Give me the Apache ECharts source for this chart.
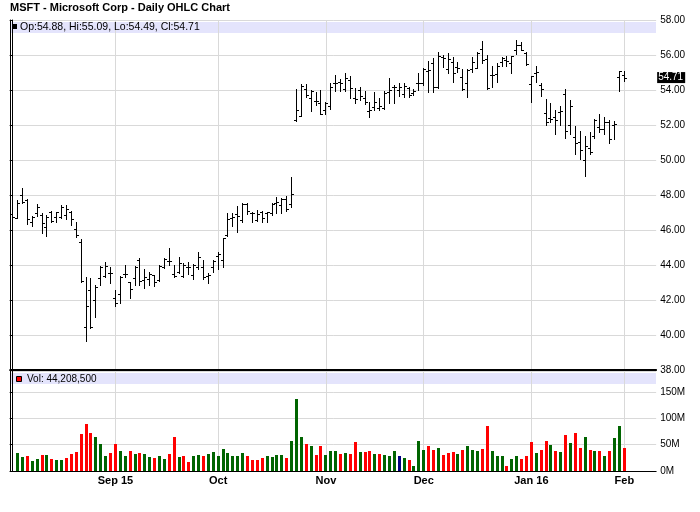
<!DOCTYPE html>
<html>
<head>
<meta charset="utf-8">
<script src="https://cdn.jsdelivr.net/npm/echarts@6/dist/echarts.min.js"></script>
<style>html,body{margin:0;padding:0;background:#fff}#c{width:700px;height:512px}</style>
</head>
<body>
<div id="c"></div>
<script>
// ---------- DATA ----------
const dates = [
 '2015-08-03','2015-08-04','2015-08-05','2015-08-06','2015-08-07','2015-08-10','2015-08-11','2015-08-12','2015-08-13','2015-08-14','2015-08-17','2015-08-18','2015-08-19','2015-08-20','2015-08-21','2015-08-24','2015-08-25','2015-08-26','2015-08-27','2015-08-28','2015-08-31',
 '2015-09-01','2015-09-02','2015-09-03','2015-09-04','2015-09-08','2015-09-09','2015-09-10','2015-09-11','2015-09-14','2015-09-15','2015-09-16','2015-09-17','2015-09-18','2015-09-21','2015-09-22','2015-09-23','2015-09-24','2015-09-25','2015-09-28','2015-09-29','2015-09-30',
 '2015-10-01','2015-10-02','2015-10-05','2015-10-06','2015-10-07','2015-10-08','2015-10-09','2015-10-12','2015-10-13','2015-10-14','2015-10-15','2015-10-16','2015-10-19','2015-10-20','2015-10-21','2015-10-22','2015-10-23','2015-10-26','2015-10-27','2015-10-28','2015-10-29','2015-10-30',
 '2015-11-02','2015-11-03','2015-11-04','2015-11-05','2015-11-06','2015-11-09','2015-11-10','2015-11-11','2015-11-12','2015-11-13','2015-11-16','2015-11-17','2015-11-18','2015-11-19','2015-11-20','2015-11-23','2015-11-24','2015-11-25','2015-11-27','2015-11-30',
 '2015-12-01','2015-12-02','2015-12-03','2015-12-04','2015-12-07','2015-12-08','2015-12-09','2015-12-10','2015-12-11','2015-12-14','2015-12-15','2015-12-16','2015-12-17','2015-12-18','2015-12-21','2015-12-22','2015-12-23','2015-12-24','2015-12-28','2015-12-29','2015-12-30','2015-12-31',
 '2016-01-04','2016-01-05','2016-01-06','2016-01-07','2016-01-08','2016-01-11','2016-01-12','2016-01-13','2016-01-14','2016-01-15','2016-01-19','2016-01-20','2016-01-21','2016-01-22','2016-01-25','2016-01-26','2016-01-27','2016-01-28','2016-01-29',
 '2016-02-01'
];
const open = [
 46.90,46.70,48.00,47.70,46.44,46.95,46.84,46.17,47.05,46.76,46.76,46.86,47.05,46.04,45.33,40.44,42.57,42.00,43.24,43.37,43.56,
 42.13,42.34,43.47,43.01,43.28,44.29,43.14,43.20,43.41,43.14,43.90,44.25,43.49,43.62,43.40,43.90,43.43,43.90,43.90,43.37,43.90,
 44.50,44.29,45.70,46.70,46.90,46.57,47.47,47.00,46.57,47.01,46.99,46.95,47.52,47.43,47.78,47.50,52.29,52.51,54.04,53.52,53.37,53.28,
 52.86,53.10,54.38,54.48,54.04,54.57,53.52,54.00,53.52,52.82,53.05,52.95,52.95,53.90,54.19,54.00,53.77,54.10,53.81,54.42,
 54.38,55.10,55.56,54.19,55.90,55.20,55.60,55.30,54.76,54.38,55.18,55.24,56.35,55.80,54.86,54.90,55.62,55.71,55.52,56.29,56.57,56.10,
 54.34,54.99,54.29,52.70,52.38,52.48,52.76,53.80,52.00,51.31,51.05,50.00,50.70,51.40,51.90,51.79,52.19,52.00,54.73,
 54.88
];
const high = [
 46.95,47.71,48.38,47.75,46.80,47.49,46.95,46.84,47.09,47.05,47.43,47.43,47.09,46.46,45.47,43.30,43.24,42.86,43.94,44.15,43.90,
 42.57,43.37,44.00,43.05,43.96,44.42,43.77,43.62,43.43,43.98,44.38,44.95,44.00,44.44,44.10,44.15,44.06,44.74,44.29,43.52,44.29,
 44.76,45.52,47.00,47.00,47.35,47.52,47.56,47.05,47.14,47.09,47.01,47.52,47.87,47.81,47.95,49.02,54.04,54.34,54.32,54.00,53.90,54.00,
 53.33,54.42,54.86,54.63,54.95,54.82,54.10,54.19,53.94,53.33,53.87,53.52,53.96,54.67,54.29,54.42,54.42,54.19,54.04,54.95,
 55.24,55.68,55.81,56.19,56.00,56.10,55.90,55.62,55.18,55.18,55.90,56.19,56.80,56.00,55.37,55.52,55.90,55.94,55.96,56.86,56.76,56.19,
 54.80,55.37,54.42,53.47,53.28,52.86,53.09,54.04,53.45,51.95,51.66,51.35,51.60,52.35,52.62,52.45,52.29,52.25,55.09,
 55.09
];
const low = [
 46.44,46.67,47.52,46.32,46.25,46.82,45.85,45.68,46.48,46.48,46.67,46.65,46.29,45.62,43.05,39.68,40.38,41.05,42.86,43.33,42.99,
 41.66,41.85,43.33,42.13,42.86,42.86,42.67,42.86,42.82,43.07,43.85,44.00,43.30,43.56,43.30,43.47,43.20,43.75,43.18,42.99,43.62,
 43.75,43.90,45.67,46.23,45.90,46.48,46.90,46.48,46.53,46.48,46.48,46.86,46.99,46.99,47.10,47.30,52.25,52.51,53.58,52.80,53.14,52.63,
 52.61,52.90,53.96,53.96,53.96,53.52,53.24,53.43,53.20,52.48,52.86,52.86,52.91,53.24,53.24,53.66,53.58,53.62,53.71,54.00,
 54.29,53.90,53.90,54.10,55.33,54.99,54.48,55.05,54.00,53.62,55.05,55.24,55.52,54.04,54.19,54.48,55.37,55.37,54.95,56.06,56.29,55.43,
 53.33,54.48,53.66,52.00,52.19,51.47,52.00,51.28,51.50,50.34,50.08,49.10,50.36,51.28,51.62,51.50,50.99,51.18,53.94,
 54.49
];
const close = [
 46.76,47.56,47.58,46.61,46.74,47.33,46.42,46.76,46.51,47.05,47.31,47.20,46.61,45.70,43.07,41.66,40.47,42.72,43.87,43.93,43.52,
 41.85,43.33,43.50,42.61,43.89,43.07,43.29,43.48,43.04,43.94,44.32,44.25,43.37,44.10,44.00,43.87,44.00,44.44,43.30,43.44,44.25,
 44.61,45.52,46.63,46.75,46.80,47.47,47.11,47.00,46.89,46.68,47.01,47.51,47.62,47.77,47.20,48.04,52.87,54.25,53.69,53.96,53.36,52.64,
 53.24,54.15,54.40,54.38,54.70,54.10,53.51,53.65,53.32,52.84,53.33,53.09,53.85,54.00,54.19,54.19,54.25,53.69,53.93,54.40,
 55.20,55.15,54.20,55.94,55.81,55.79,54.98,55.27,54.06,55.14,55.62,56.13,55.70,54.13,54.83,55.35,55.82,55.67,55.95,56.55,56.31,55.48,
 54.80,55.05,54.05,52.17,52.33,52.30,52.78,51.64,53.11,50.99,50.56,50.79,50.48,52.29,51.79,52.17,51.22,52.06,55.09,
 54.71
];
// volume in millions of shares (first day has no volume bar)
const volumeM = [
 null,34.1,26.5,28.4,18.9,22.7,30.3,30.3,22.7,20.8,20.8,24.6,32.2,36.0,70.1,89.0,72.0,64.4,51.1,28.4,34.1,
 51.1,37.9,28.4,37.9,32.2,34.1,32.2,26.5,24.6,28.4,22.7,32.2,64.4,26.5,28.4,17.0,28.4,30.3,28.4,32.2,36.0,
 28.4,41.7,34.1,28.4,28.4,34.1,28.4,20.8,20.8,24.6,28.4,26.5,30.3,30.3,24.6,56.8,136.4,65.0,51.5,48.0,30.3,48.0,
 30.3,38.5,38.5,32.2,34.7,32.2,55.0,36.3,36.3,37.9,32.2,32.2,30.3,28.4,37.9,28.4,24.6,20.8,9.5,56.8,
 39.8,47.3,39.8,43.6,30.3,34.1,36.0,32.2,39.8,47.3,39.8,37.9,41.7,85.2,37.9,28.4,28.4,9.5,22.7,28.4,22.7,28.4,
 54.9,34.1,39.8,56.8,49.2,37.9,36.0,68.2,53.0,72.0,43.6,64.4,39.8,37.9,37.9,28.4,37.9,62.5,85.2,
 44.2085
];
const xTickLabels = ['Sep 15','Oct','Nov','Dec','Jan 16','Feb'];
const priceMin = 38, priceMax = 58, priceStep = 2;
const volMax = 190, volStep = 50;
const titleText = 'MSFT - Microsoft Corp - Daily OHLC Chart';

// ---------- BUILD ----------
const FONT = '"Liberation Sans", Arial, sans-serif';
const GRID_C = '#d9d9d9';
const UP = '#006400', DOWN = '#ff0000', SAME = '#000080';
const n = dates.length;
const monthStarts = [];
for (let i = 1; i < n; i++) if (dates[i].slice(0,7) !== dates[i-1].slice(0,7)) monthStarts.push(i);
const slots = n + 6; // a few empty trading days after the last bar
const xMin = -0.5, xMax = slots - 0.5;

const ohlc = dates.map((d, i) => [i, open[i], high[i], low[i], close[i]]);
const vol = [];
volumeM.forEach((v, i) => {
  if (v == null) return;
  const dir = i === 0 ? 1 : (close[i] > close[i-1] ? 1 : (close[i] < close[i-1] ? -1 : 0));
  vol.push([i, v, dir]);
});
const L = n - 1;
const f2 = v => v.toFixed(2);
const opText = 'Op:' + f2(open[L]) + ', Hi:' + f2(high[L]) + ', Lo:' + f2(low[L]) + ', Cl:' + f2(close[L]);
const volText = 'Vol: ' + Math.round(volumeM[L] * 1e6).toLocaleString('en-US');

const chart = echarts.init(document.getElementById('c'), null, {renderer: 'canvas'});

function renderOHLC(params, api) {
  const i = api.value(0);
  const x = Math.floor(api.coord([i, api.value(2)])[0]);
  const yO = Math.round(api.coord([i, api.value(1)])[1]) + 0.5;
  const yH = Math.round(api.coord([i, api.value(2)])[1]);
  const yL = Math.round(api.coord([i, api.value(3)])[1]);
  const yC = Math.round(api.coord([i, api.value(4)])[1]) + 0.5;
  const st = {stroke: '#000', lineWidth: 1};
  return {type: 'group', children: [
    {type: 'line', shape: {x1: x + 0.5, y1: yH, x2: x + 0.5, y2: yL + 1}, style: st},
    {type: 'line', shape: {x1: x - 2, y1: yO, x2: x, y2: yO}, style: st},
    {type: 'line', shape: {x1: x + 1, y1: yC, x2: x + 3, y2: yC}, style: st}
  ]};
}
function renderVol(params, api) {
  const i = api.value(0), v = api.value(1), d = api.value(2);
  const x = Math.floor(api.coord([i, 0])[0]);
  const y0 = Math.round(api.coord([i, 0])[1]);
  const y1 = Math.round(api.coord([i, v])[1]);
  return {type: 'rect', shape: {x: x - 1, y: y1, width: 3, height: y0 - y1},
          style: {fill: d > 0 ? UP : (d < 0 ? DOWN : SAME)}};
}

const gridL = 10.25, gridW = 645.9;
const xAxisBase = (gi, showLabel, lw) => ({
  type: 'value', gridIndex: gi, min: xMin, max: xMax,
  axisLine: {show: true, onZero: false, lineStyle: {color: '#000', width: lw}},
  axisTick: {show: false, customValues: monthStarts},
  splitLine: {show: true, customValues: monthStarts, lineStyle: {color: GRID_C, width: 1}},
  axisLabel: {show: showLabel, customValues: monthStarts, margin: 4,
    formatter: v => xTickLabels[monthStarts.indexOf(v)] || '',
    fontFamily: FONT, fontSize: 11, fontWeight: 'bold', color: '#000'}
});
const borderAxis = gi => ({
  type: 'value', gridIndex: gi, position: 'left', min: 0, max: 1,
  axisLine: {show: true, onZero: false, lineStyle: {color: '#000', width: 1}},
  axisTick: {show: false}, axisLabel: {show: false}, splitLine: {show: false}
});

chart.setOption({
  animation: false,
  backgroundColor: '#fff',
  title: {text: titleText, left: 10, top: 2, padding: 0,
    textStyle: {fontFamily: FONT, fontSize: 11, fontWeight: 'bold', color: '#000'}},
  grid: [
    {left: gridL, width: gridW, top: 20, height: 350},
    {left: gridL, width: gridW, top: 371, height: 100}
  ],
  xAxis: [xAxisBase(0, false, 2), xAxisBase(1, true, 1)],
  yAxis: [
    {type: 'value', gridIndex: 0, position: 'right', min: priceMin, max: priceMax, interval: priceStep,
     axisLine: {show: true, lineStyle: {color: '#000'}},
     axisTick: {show: true, inside: true, length: 3, lineStyle: {color: '#000'}},
     axisLabel: {formatter: v => v.toFixed(2), margin: 4, fontFamily: FONT, fontSize: 10, color: '#000'},
     splitLine: {show: true, lineStyle: {color: GRID_C}}},
    borderAxis(0),
    {type: 'value', gridIndex: 1, position: 'right', min: 0, max: volMax, interval: volStep,
     axisLine: {show: true, lineStyle: {color: '#000'}},
     axisTick: {show: true, inside: true, length: 3, lineStyle: {color: '#000'}},
     axisLabel: {formatter: v => v + 'M', showMaxLabel: false, margin: 4, fontFamily: FONT, fontSize: 10, color: '#000'},
     splitLine: {show: true, lineStyle: {color: GRID_C}}},
    borderAxis(1)
  ],
  graphic: {elements: [
    {type: 'rect', z: -1, shape: {x: 11, y: 22, width: 645, height: 11}, style: {fill: '#e4e4fc'}},
    {type: 'rect', z: -1, shape: {x: 11, y: 373, width: 645, height: 11}, style: {fill: '#e4e4fc'}},
    {type: 'rect', z: 10, shape: {x: 12, y: 24, width: 5, height: 5}, style: {fill: '#000'}},
    {type: 'text', z: 10, style: {text: opText, x: 20, y: 27.5, fill: '#000', font: '10.5px ' + FONT, verticalAlign: 'middle'}},
    {type: 'rect', z: 10, shape: {x: 16.5, y: 376.5, width: 5, height: 5}, style: {fill: '#ff0000', stroke: '#000', lineWidth: 1}},
    {type: 'text', z: 10, style: {text: volText, x: 27, y: 379, fill: '#000', font: '10px ' + FONT, verticalAlign: 'middle'}}
  ]},
  series: [
    {type: 'custom', name: 'OHLC', xAxisIndex: 0, yAxisIndex: 0, data: ohlc, clip: false,
     encode: {x: 0, y: [1, 2, 3, 4]}, renderItem: renderOHLC, itemStyle: {color: '#000'},
     markLine: {silent: true, symbol: ['none', 'none'], animation: false, z: 20,
       lineStyle: {color: 'rgba(0,0,0,0)', width: 0, type: 'solid'},
       data: [{yAxis: close[L]}],
       label: {show: true, position: 'end', distance: 1, opacity: 1, formatter: f2(close[L]),
         backgroundColor: '#000', color: '#fff', fontFamily: FONT, fontSize: 10, padding: [1, 2, 0, 1]}}},
    {type: 'custom', name: 'Volume', xAxisIndex: 1, yAxisIndex: 2, data: vol,
     encode: {x: 0, y: 1}, renderItem: renderVol, itemStyle: {color: '#ff0000'}}
  ]
});
</script>
</body>
</html>
